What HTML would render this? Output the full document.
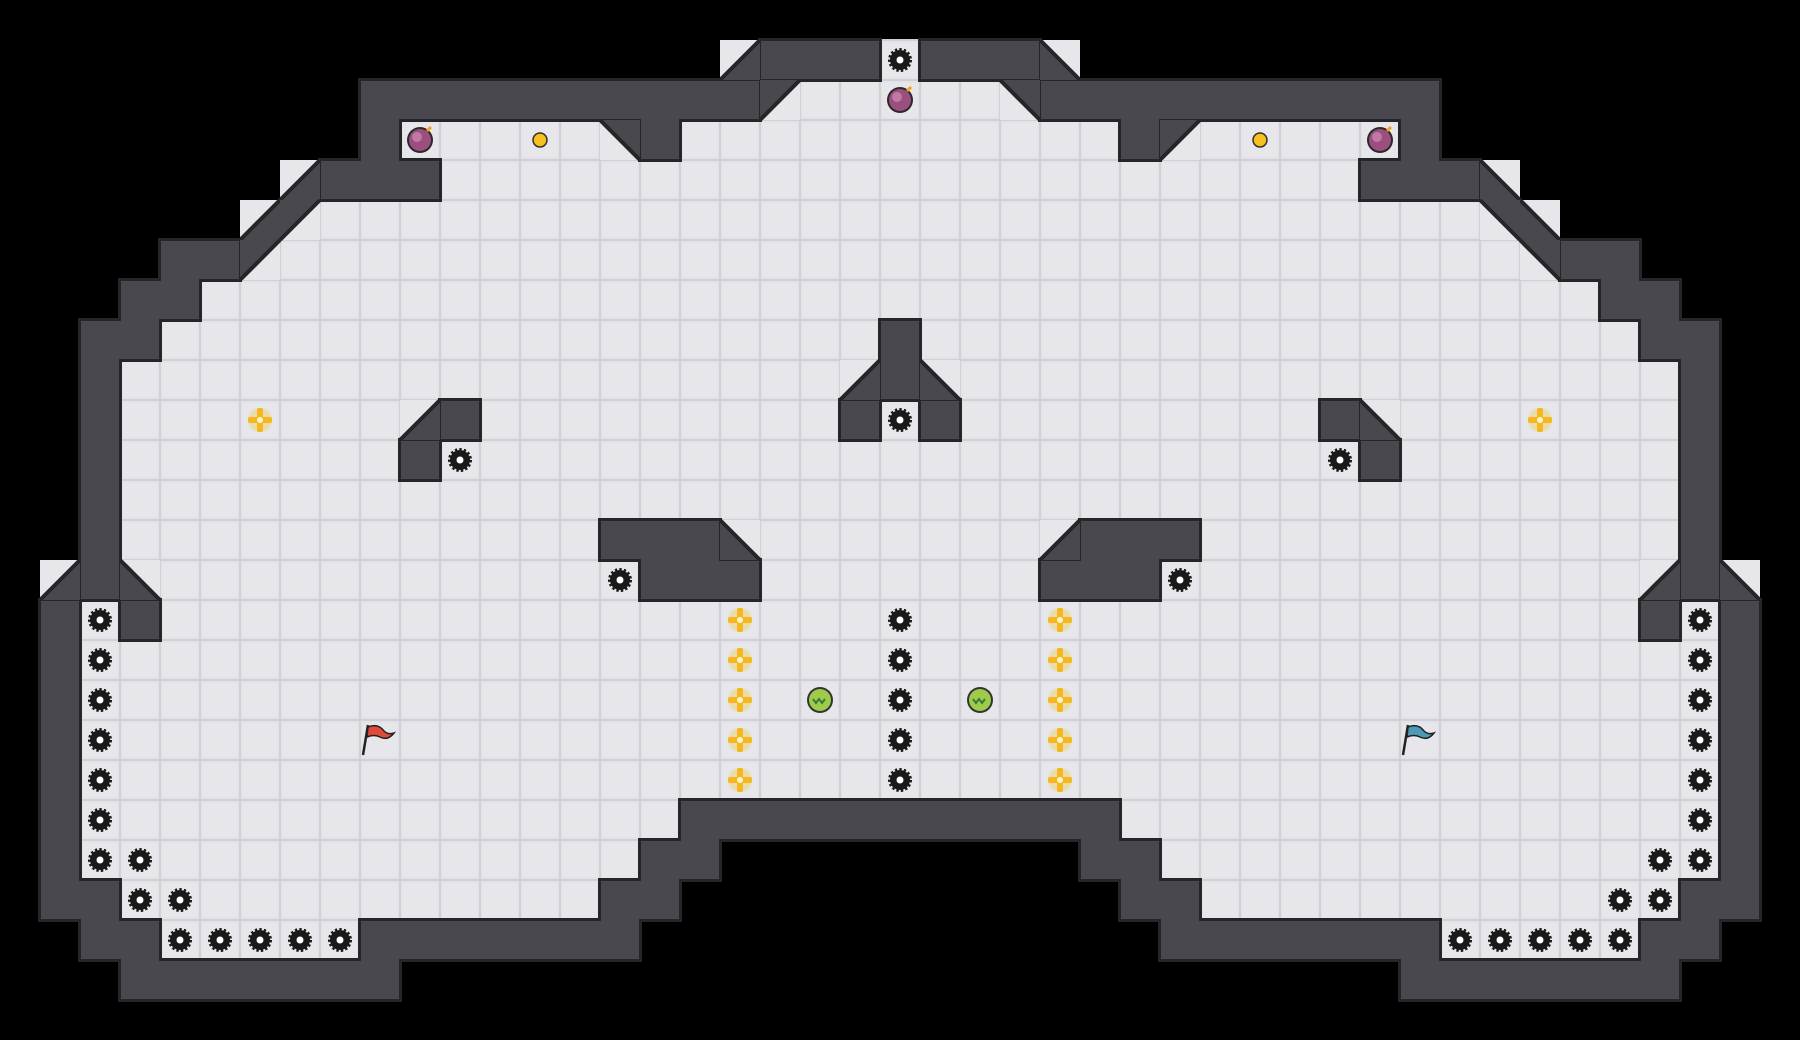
<!DOCTYPE html>
<html><head><meta charset="utf-8"><style>html,body{margin:0;padding:0;background:#000;}svg{display:block}</style></head>
<body>
<svg id="s" width="1800" height="1040" xmlns="http://www.w3.org/2000/svg" style="background:#000">
<defs>
<g id="gear"><circle r="10" fill="#1a1a1a" stroke="#1a1a1a" stroke-width="4" stroke-dasharray="2.2 2"/><circle r="9" fill="#1a1a1a"/><circle r="3.5" fill="#fff"/></g>
<g id="plus"><circle r="12" fill="#f6c93a" opacity="0.35"/><rect x="-3" y="-12" width="6" height="24" rx="2" fill="#f5b820"/><rect x="-12" y="-3" width="24" height="6" rx="2" fill="#f5b820"/><circle r="3" fill="#fff3c0"/></g>
<g id="bomb"><circle r="13" fill="#2a2a2a"/><circle r="11" fill="#9a4f7e"/><circle cx="-3" cy="-3" r="5" fill="#c27aa4"/><path d="M7,-9 l4,-4" stroke="#f5a020" stroke-width="3"/></g>
</defs>
<g id="g"></g>
</svg>
<script>
var T=40,W=45,H=26;
var m=[];for(var r=0;r<H;r++){m.push([]);for(var c=0;c<W;c++)m[r].push(0);}
function set(r,a,b,v){for(var c=a;c<=b;c++){m[r][c]=v;m[r][44-c]=v;}}
set(1,19,21,1);set(1,22,22,2);
set(2,9,18,1);set(2,19,22,2);
set(3,9,9,1);set(3,10,14,2);set(3,15,16,1);set(3,17,22,2);
set(4,7,10,1);set(4,11,22,2);
set(5,6,7,1);set(5,8,22,2);
set(6,4,5,1);set(6,6,22,2);
set(7,3,4,1);set(7,5,22,2);
set(8,2,3,1);set(8,4,22,2);
for(var r=9;r<=13;r++){set(r,2,2,1);set(r,3,22,2);}
set(14,1,3,1);set(14,4,22,2);
set(15,1,1,1);set(15,2,2,2);set(15,3,3,1);set(15,4,22,2);
for(var r=16;r<=19;r++){set(r,1,1,1);set(r,2,22,2);}
set(20,1,1,1);set(20,2,16,2);set(20,17,22,1);
set(21,1,1,1);set(21,2,15,2);set(21,16,17,1);
set(22,1,2,1);set(22,3,14,2);set(22,15,16,1);
set(23,2,3,1);set(23,4,8,2);set(23,9,15,1);
set(24,3,9,1);
set(8,22,22,1);set(9,21,22,1);set(10,21,21,1);
set(10,10,11,1);set(11,10,10,1);
set(13,15,18,1);set(14,16,18,1);
// slopes: [r,c,corner] left side
var sl=[[1,18,'BR'],[2,19,'TL'],[3,15,'TR'],[4,7,'BR'],[5,6,'BR'],[5,7,'TL'],[6,6,'TL'],[14,1,'BR'],[14,3,'BL'],[10,10,'BR'],[9,21,'BR'],[13,18,'BL']];
var flip={BR:'BL',BL:'BR',TL:'TR',TR:'TL'};
var all=[];sl.forEach(function(s){all.push(s);if(44-s[1]!=s[1])all.push([s[0],44-s[1],flip[s[2]]]);});
all.forEach(function(s){m[s[0]][s[1]]=3;});
var h='';
for(var r=0;r<H;r++)for(var c=0;c<W;c++){var v=m[r][c],x=c*T,y=r*T;
 if(v==2)h+='<rect x="'+x+'" y="'+y+'" width="40" height="40" fill="#e3e3e8" stroke="#d0d0d6" stroke-width="2"/><rect x="'+(x+3)+'" y="'+(y+3)+'" width="34" height="34" fill="#e6e6eb"/>';
}
for(var r=0;r<H;r++)for(var c=0;c<W;c++){if(m[r][c]==1){var x=c*T,y=r*T;h+='<rect x="'+(x-2)+'" y="'+(y-2)+'" width="44" height="44" fill="#262629"/>';}}
function isw(r,c){return r>=0&&c>=0&&r<H&&c<W&&(m[r][c]==1);}
for(var r=0;r<H;r++)for(var c=0;c<W;c++){if(m[r][c]==1){var x=c*T,y=r*T;h+='<rect x="'+(x+1)+'" y="'+(y+1)+'" width="38" height="38" fill="#48484e"/>';
 if(isw(r,c+1))h+='<rect x="'+(x+38)+'" y="'+(y+1)+'" width="4" height="38" fill="#48484e"/>';
 if(isw(r+1,c))h+='<rect x="'+(x+1)+'" y="'+(y+38)+'" width="38" height="4" fill="#48484e"/>';
 if(isw(r,c+1)&&isw(r+1,c)&&isw(r+1,c+1))h+='<rect x="'+(x+38)+'" y="'+(y+38)+'" width="4" height="4" fill="#48484e"/>';}}
all.forEach(function(s){var x=s[1]*T,y=s[0]*T,p,d;
 if(s[2]=='BR'){p=[x+40,y,x+40,y+40,x,y+40];d=[x+40,y,x,y+40];}
 else if(s[2]=='TL'){p=[x,y,x+40,y,x,y+40];d=[x+40,y,x,y+40];}
 else if(s[2]=='BL'){p=[x,y,x+40,y+40,x,y+40];d=[x,y,x+40,y+40];}
 else {p=[x,y,x+40,y,x+40,y+40];d=[x,y,x+40,y+40];}
 h+='<rect x="'+x+'" y="'+y+'" width="40" height="40" fill="#e6e6eb"/>';
 h+='<polygon points="'+p.join(' ')+'" fill="#48484e"/>';
 h+='<line x1="'+d[0]+'" y1="'+d[1]+'" x2="'+d[2]+'" y2="'+d[3]+'" stroke="#262629" stroke-width="4"/>';
});
function u(id,c,r){h+='<use href="#'+id+'" x="'+(c*T+20)+'" y="'+(r*T+20)+'"/>';}
function um(id,c,r){u(id,c,r);if(44-c!=c)u(id,44-c,r);}
um('gear',22,1);um('gear',22,10);um('gear',11,11);um('gear',15,14);
for(var r=15;r<=19;r++)um('gear',22,r);
for(var r=15;r<=21;r++)um('gear',2,r);
um('gear',3,21);um('gear',3,22);um('gear',4,22);
for(var c=4;c<=8;c++)um('gear',c,23);
um('plus',6,10);for(var r=15;r<=19;r++)um('plus',18,r);
um('bomb',10,3);u('bomb',22,2);
h+='<circle cx="540" cy="140" r="7" fill="#f5c020" stroke="#333" stroke-width="1.5"/><circle cx="1260" cy="140" r="7" fill="#f5c020" stroke="#333" stroke-width="1.5"/>';
[820,980].forEach(function(x){h+='<circle cx="'+x+'" cy="700" r="13" fill="#333"/><circle cx="'+x+'" cy="700" r="11" fill="#9ccc4a"/><path d="M'+(x-7)+',699 l3,4 3,-4 3,4 3,-4" stroke="#3a7a3a" stroke-width="2" fill="none"/>';});
function flag(x,y,col){h+='<path d="M'+x+','+(y+30)+' L'+(x+5)+','+y+'" stroke="#222" stroke-width="2.5"/><path d="M'+(x+5)+','+(y+2)+' q10,-4 16,4 q4,4 10,2 q-6,8 -14,4 q-6,-3 -13,0z" fill="'+col+'" stroke="#222" stroke-width="1.5"/>';}
flag(363,725,'#e04a3a');flag(1403,725,'#4a9ab8');
document.getElementById('g').innerHTML=h;
</script>
</body></html>
